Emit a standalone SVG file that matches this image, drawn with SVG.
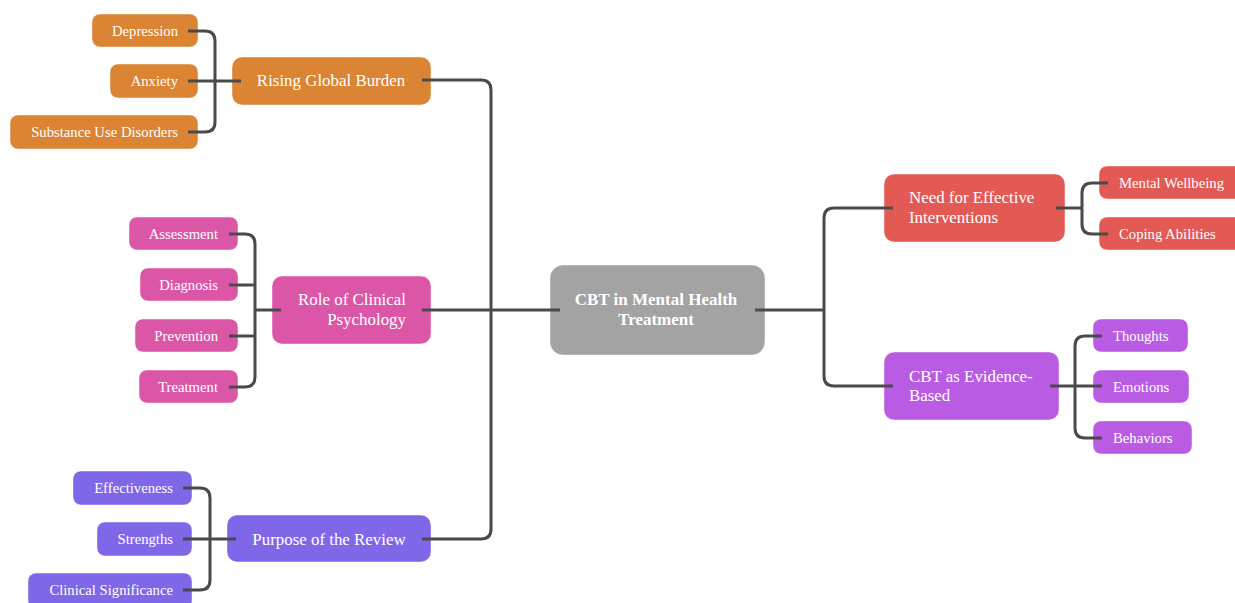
<svg xmlns="http://www.w3.org/2000/svg" width="1235" height="603" viewBox="0 0 1235 603">
<style>
.n{stroke:rgba(255,255,255,0.45);stroke-width:1}
.t{font-family:"Liberation Serif","Times New Roman",serif;fill:#fff;dominant-baseline:central}
.m{font-size:16.9px}
.c{font-size:14.7px}
.r{font-size:17px;font-weight:bold}
.or{fill:#db8433}.pk{fill:#dc56a8}.pu{fill:#7f67e8}.rd{fill:#e35a55}.vi{fill:#b95ce3}.gy{fill:#a3a3a3}
#connectors path{fill:none;stroke:#4a4a4a;stroke-width:3}
</style>
<rect width="1235" height="603" fill="#fff"/>
<g id="root"><rect class="n gy" x="550" y="265" width="215" height="90" rx="13"/>
<text class="t r" x="656" y="299" text-anchor="middle">CBT in Mental Health</text>
<text class="t r" x="656" y="319" text-anchor="middle">Treatment</text></g>
<g id="rising"><rect class="n or" x="232" y="57" width="199" height="48" rx="10"/><text class="t m" x="331" y="80" text-anchor="middle">Rising Global Burden</text></g>
<g id="depression"><rect class="n or" x="92" y="14" width="106" height="33" rx="8"/><text class="t c" x="178" y="31" text-anchor="end">Depression</text></g>
<g id="anxiety"><rect class="n or" x="110" y="64" width="88" height="34" rx="8"/><text class="t c" x="178" y="81" text-anchor="end">Anxiety</text></g>
<g id="substance"><rect class="n or" x="10" y="115" width="188" height="34" rx="8"/><text class="t c" x="178" y="132" text-anchor="end">Substance Use Disorders</text></g>
<g id="role"><rect class="n pk" x="272" y="276" width="159" height="68" rx="10"/>
<text class="t m" x="406" y="299" text-anchor="end">Role of Clinical</text>
<text class="t m" x="406" y="319" text-anchor="end">Psychology</text></g>
<g id="assessment"><rect class="n pk" x="129" y="217" width="109" height="33" rx="8"/><text class="t c" x="218" y="234" text-anchor="end">Assessment</text></g>
<g id="diagnosis"><rect class="n pk" x="140" y="268" width="98" height="33" rx="8"/><text class="t c" x="218" y="285" text-anchor="end">Diagnosis</text></g>
<g id="prevention"><rect class="n pk" x="135" y="319" width="103" height="33" rx="8"/><text class="t c" x="218" y="336" text-anchor="end">Prevention</text></g>
<g id="treatment"><rect class="n pk" x="139" y="370" width="99" height="33" rx="8"/><text class="t c" x="218" y="387" text-anchor="end">Treatment</text></g>
<g id="purpose"><rect class="n pu" x="227" y="515" width="204" height="47" rx="10"/><text class="t m" x="329" y="539" text-anchor="middle">Purpose of the Review</text></g>
<g id="effectiveness"><rect class="n pu" x="73" y="471" width="119" height="34" rx="8"/><text class="t c" x="173" y="488" text-anchor="end">Effectiveness</text></g>
<g id="strengths"><rect class="n pu" x="97" y="522" width="95" height="34" rx="8"/><text class="t c" x="173" y="539" text-anchor="end">Strengths</text></g>
<g id="clinical"><rect class="n pu" x="28" y="573" width="164" height="36" rx="8"/><text class="t c" x="173" y="590" text-anchor="end">Clinical Significance</text></g>
<g id="need"><rect class="n rd" x="884" y="174" width="181" height="68" rx="10"/>
<text class="t m" x="909" y="197">Need for Effective</text>
<text class="t m" x="909" y="217">Interventions</text></g>
<g id="wellbeing"><rect class="n rd" x="1099" y="166" width="145" height="33" rx="8"/><text class="t c" x="1119" y="183">Mental Wellbeing</text></g>
<g id="coping"><rect class="n rd" x="1099" y="217" width="145" height="33" rx="8"/><text class="t c" x="1119" y="234">Coping Abilities</text></g>
<g id="evidence"><rect class="n vi" x="884" y="352" width="175" height="68" rx="10"/>
<text class="t m" x="909" y="376">CBT as Evidence-</text>
<text class="t m" x="909" y="395">Based</text></g>
<g id="thoughts"><rect class="n vi" x="1093" y="319" width="95" height="33" rx="8"/><text class="t c" x="1113" y="336">Thoughts</text></g>
<g id="emotions"><rect class="n vi" x="1093" y="370" width="96" height="33" rx="8"/><text class="t c" x="1113" y="387">Emotions</text></g>
<g id="behaviors"><rect class="n vi" x="1093" y="421" width="99" height="33" rx="8"/><text class="t c" x="1113" y="438">Behaviors</text></g>
<g id="connectors">
<path d="M422,80 H481 Q491,80 491,90 V529 Q491,539 481,539 H422"/>
<path d="M560,310 H422"/>
<path d="M188,31 H205 Q215,31 215,41 V122 Q215,132 205,132 H188"/>
<path d="M188,81 H241"/>
<path d="M229,234 H245 Q255,234 255,244 V377 Q255,387 245,387 H229"/>
<path d="M229,285 H255 M229,336 H255 M255,310 H281"/>
<path d="M183,488 H200 Q210,488 210,498 V580 Q210,590 200,590 H183"/>
<path d="M183,539 H236"/>
<path d="M755,310 H824"/>
<path d="M893,208 H834 Q824,208 824,218 V376 Q824,386 834,386 H893"/>
<path d="M1108,183 H1092 Q1082,183 1082,193 V224 Q1082,234 1092,234 H1108"/>
<path d="M1056,208 H1082"/>
<path d="M1102,336 H1085 Q1075,336 1075,346 V428 Q1075,438 1085,438 H1102"/>
<path d="M1050,386 H1102"/>
</g>
</svg>
